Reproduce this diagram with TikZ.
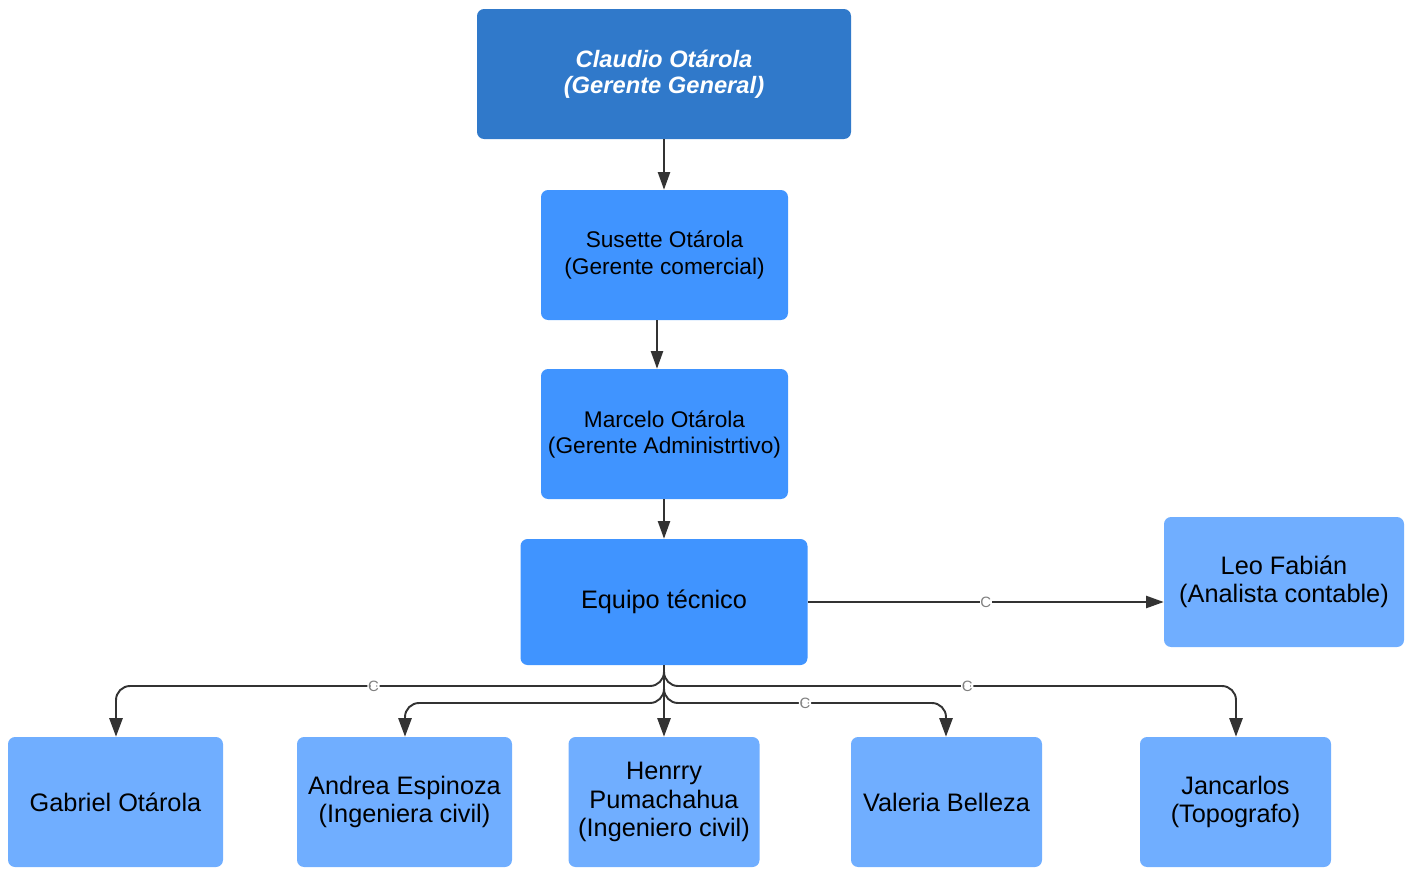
\documentclass[tikz,border=0pt]{standalone}
\usepackage{fontspec}
\setmainfont{Liberation Sans}
\usetikzlibrary{arrows.meta}
\definecolor{topblue}{HTML}{3079CA}
\definecolor{midblue}{HTML}{4094FF}
\definecolor{lightblue}{HTML}{70AEFF}
\definecolor{linegray}{HTML}{333333}

\begin{document}
\begin{tikzpicture}[x=0.02cm,y=-0.02cm,
	box/.style={rectangle,rounded corners=4pt,inner sep=0pt,align=center,text=black},
	small/.style={font=\fontsize{12.9}{14.8}\selectfont},
	large/.style={font=\fontsize{14.4}{16.2}\selectfont},
	link/.style={draw=linegray,line width=1.1pt,-{Triangle[length=10.5pt,width=7.5pt]}},
	thin link/.style={draw=linegray,line width=0.8pt,-{Triangle[length=10pt,width=7pt]}},
	hop/.style={fill=white,inner sep=0.4pt,text=gray,font=\fontsize{8.5}{8.5}\selectfont}
	]
	\useasboundingbox (0,0) rectangle (1411,869);
	\clip (0,0) rectangle (1411,869);
	\node[box,fill=topblue,text=white,minimum width=374*0.02cm,minimum height=130*0.02cm,font=\fontsize{13.5}{14.8}\selectfont\bfseries\itshape](gg) at (664,74) {Claudio Otárola\\(Gerente General)};
	\node[box,small,fill=midblue,minimum width=247*0.02cm,minimum height=130*0.02cm](gc) at (664.5,255) {Susette Otárola\\(Gerente comercial)};
	\node[box,small,fill=midblue,minimum width=247*0.02cm,minimum height=130*0.02cm](ga) at (664.5,434) {Marcelo Otárola\\(Gerente Administrtivo)};
	\node[box,large,fill=midblue,minimum width=287*0.02cm,minimum height=126*0.02cm](eq) at (664,602) {Equipo técnico};
	\node[box,large,fill=lightblue,minimum width=240*0.02cm,minimum height=130*0.02cm](leo) at (1284,582) {Leo Fabián\\(Analista contable)};
	\node[box,large,fill=lightblue,minimum width=215*0.02cm,minimum height=130*0.02cm](gab) at (115.5,802) {Gabriel Otárola};
	\node[box,large,fill=lightblue,minimum width=215*0.02cm,minimum height=130*0.02cm](and) at (404.5,802) {Andrea Espinoza\\(Ingeniera civil)};
	\node[box,large,fill=lightblue,minimum width=191*0.02cm,minimum height=130*0.02cm](hen) at (664,802) {Henrry\\Pumachahua\\(Ingeniero civil)};
	\node[box,large,fill=lightblue,minimum width=191*0.02cm,minimum height=130*0.02cm](val) at (946.5,802) {Valeria Belleza};
	\node[box,large,fill=lightblue,minimum width=191*0.02cm,minimum height=130*0.02cm](jan) at (1235.5,802) {Jancarlos\\(Topografo)};
	\draw[thin link] (gg.south -| 664,0) -- (gc.north -| 664,0);
	\draw[thin link] (gc.south -| 657,0) -- (ga.north -| 657,0);
	\draw[thin link] (ga.south -| 664,0) -- (eq.north);
	\draw[thin link] (eq.east) -- node[hop,pos=0.5]{C} (eq.east -| leo.west);
	\draw[link,rounded corners=8pt] (eq.south) -- (664,686) -- node[hop,pos=0.53]{C} (116,686) -- (gab.north -| 116,0);
	\draw[link,rounded corners=8pt] (eq.south) -- (664,703) -- (405,703) -- (and.north -| 405,0);
	\draw[link] (eq.south) -- (hen.north);
	\draw[link,rounded corners=8pt] (eq.south) -- (664,703) -- node[hop,pos=0.5]{C} (946,703) -- (val.north -| 946,0);
	\draw[link,rounded corners=8pt] (eq.south) -- (664,686) -- node[hop,pos=0.53]{C} (1236,686) -- (jan.north -| 1236,0);
\end{tikzpicture}
\end{document}
